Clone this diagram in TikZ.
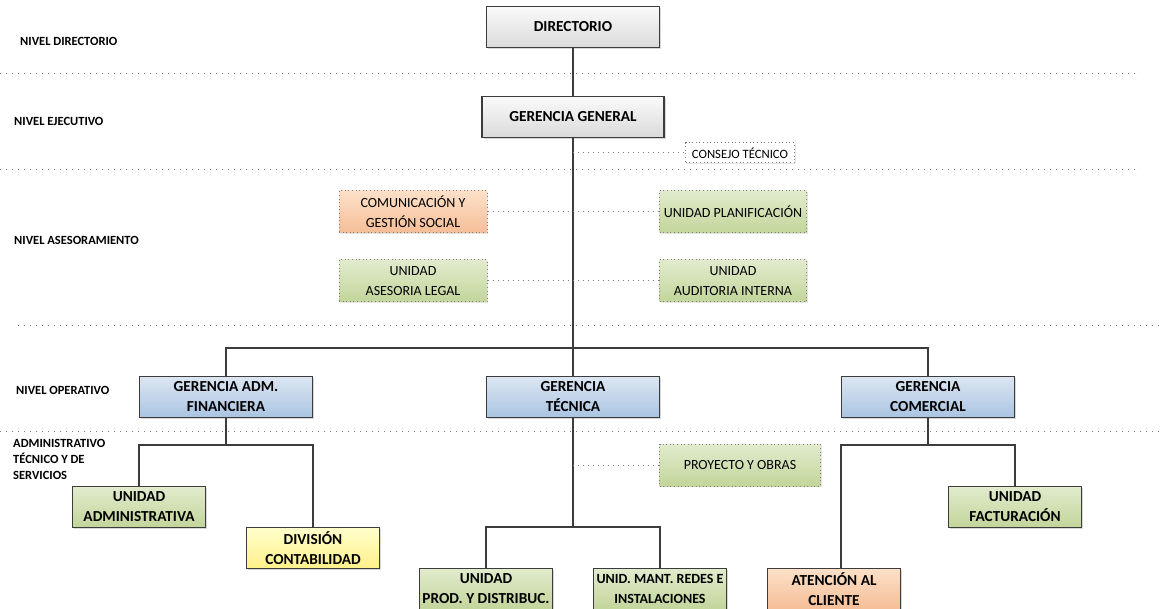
\documentclass[tikz,border=0pt]{standalone}
\usepackage{fontspec}
\setmainfont{Carlito}
\usetikzlibrary{shadows, positioning}
\definecolor{grisA}{HTML}{FAFAFA}
\definecolor{grisB}{HTML}{DADADA}
\definecolor{azulA}{HTML}{DCE6F2}
\definecolor{azulB}{HTML}{A9C4E2}
\definecolor{verdeA}{HTML}{E2EBCD}
\definecolor{verdeB}{HTML}{C2D59A}
\definecolor{naranjaA}{HTML}{FCE0C8}
\definecolor{naranjaB}{HTML}{F5BE97}
\definecolor{amarilloA}{HTML}{FFFFCC}
\definecolor{amarilloB}{HTML}{FFF08A}
\definecolor{borde}{HTML}{3C3C3C}
\tikzstyle{cargo} = [draw=borde, line width=1.1pt, rectangle, minimum width=173pt, minimum height=41pt, inner sep=1pt, align=center, font=\fontsize{15.3}{20}\selectfont\bfseries, drop shadow={shadow xshift=1.5pt, shadow yshift=-1.5pt, opacity=0.3}]
\tikzstyle{directivo} = [cargo, top color=grisA, bottom color=grisB]
\tikzstyle{gerencia} = [cargo, top color=azulA, bottom color=azulB]
\tikzstyle{unidad} = [cargo, minimum width=133pt, top color=verdeA, bottom color=verdeB]
\tikzstyle{staff} = [draw=gray, dash pattern=on 1pt off 2.6pt, line width=1pt, rectangle, minimum width=148pt, minimum height=42pt, inner sep=1pt, align=center, font=\fontsize{14}{20}\selectfont, top color=verdeA, bottom color=verdeB, drop shadow={shadow xshift=1pt, shadow yshift=-1pt, opacity=0.2}]
\tikzstyle{nivel} = [anchor=west, inner sep=0pt, align=left, font=\fontsize{12.5}{16}\selectfont\bfseries]
\tikzstyle{separador} = [draw=gray, line width=1pt, dash pattern=on 1pt off 5pt]
\tikzstyle{enlace} = [draw=borde, line width=1.1pt]
\tikzstyle{enlacepunt} = [draw=gray, line width=1pt, dash pattern=on 1pt off 4pt]

\begin{document}
\begin{tikzpicture}[x=1pt, y=-1pt]
	\useasboundingbox[fill=white] (0,0) rectangle (1161,609);
	% separadores de nivel
	\draw[separador] (0,74) -- (1140,74);
	\draw[separador] (0,170) -- (1140,170);
	\draw[separador] (18,326) -- (1161,326);
	\draw[separador] (0,431) -- (1161,431);
	% niveles
	\node[nivel] (ndir) at (20,41) {NIVEL DIRECTORIO};
	\node[nivel] (neje) at (14,121) {NIVEL EJECUTIVO};
	\node[nivel] (nase) at (14,240) {NIVEL ASESORAMIENTO};
	\node[nivel] (nope) at (16,390) {NIVEL OPERATIVO};
	\node[nivel] (nadm) at (13,459) {ADMINISTRATIVO\\TÉCNICO Y DE\\SERVICIOS};
	% puntos de quiebre
	\coordinate (barra) at (573,348);
	\coordinate (bfin) at (226,445);
	\coordinate (btec) at (573,527);
	\coordinate (bcom) at (928,445);
	% cajas
	\node[directivo] (directorio) at (573,27) {DIRECTORIO};
	\node[directivo, minimum width=182pt] (general) at (573,117) {GERENCIA GENERAL};
	\node[staff, top color=white, bottom color=white, minimum width=109pt, minimum height=20pt, font=\fontsize{12.7}{14}\selectfont] (consejo) at (740,153) {CONSEJO TÉCNICO};
	\node[staff, top color=naranjaA, bottom color=naranjaB] (comunicacion) at (413,212) {COMUNICACIÓN Y\\GESTIÓN SOCIAL};
	\node[staff, minimum width=147pt] (planificacion) at (733,212) {UNIDAD PLANIFICACIÓN};
	\node[staff] (legal) at (413,281) {UNIDAD\\ASESORIA LEGAL};
	\node[staff, minimum width=147pt] (auditoria) at (733,281) {UNIDAD\\AUDITORIA INTERNA};
	\node[gerencia] (gfinanciera) at (226,397) {GERENCIA ADM.\\FINANCIERA};
	\node[gerencia] (gtecnica) at (573,397) {GERENCIA\\TÉCNICA};
	\node[gerencia] (gcomercial) at (928,397) {GERENCIA\\COMERCIAL};
	\node[unidad] (administrativa) at (139,507) {UNIDAD\\ADMINISTRATIVA};
	\node[unidad, top color=amarilloA, bottom color=amarilloB] (contabilidad) at (313,548) {DIVISIÓN\\CONTABILIDAD};
	\node[staff, minimum width=161pt] (proyecto) at (740,465) {PROYECTO Y OBRAS};
	\node[unidad] (produccion) at (486,589) {UNIDAD\\PROD. Y DISTRIBUC.};
	\node[unidad, font=\fontsize{14}{20}\selectfont\bfseries] (redes) at (660,589) {UNID. MANT. REDES E\\INSTALACIONES};
	\node[unidad, top color=naranjaA, bottom color=naranjaB] (atencion) at (834,589) {ATENCIÓN AL\\CLIENTE};
	\node[unidad] (facturacion) at (1015,507) {UNIDAD\\FACTURACIÓN};
	% lineas de mando
	\draw[enlace] (directorio) -- (general);
	\draw[enlace] (general) -- (gtecnica);
	\draw[enlace] (gfinanciera.north) |- (barra) -| (gcomercial.north);
	\draw[enlace] (gfinanciera) -- (bfin);
	\draw[enlace] (administrativa.north) |- (bfin) -| (contabilidad.north);
	\draw[enlace] (gtecnica) -- (btec);
	\draw[enlace] (produccion.north) |- (btec) -| (redes.north);
	\draw[enlace] (gcomercial) -- (bcom);
	\draw[enlace] (bcom) -| (facturacion.north);
	\draw[enlace] (bcom) -| ([xshift=7pt]atencion.north);
	% lineas de asesoria
	\draw[enlacepunt] (general.south |- consejo.west) -- (consejo.west);
	\draw[enlacepunt] (comunicacion) -- (planificacion);
	\draw[enlacepunt] (legal) -- (auditoria);
	\draw[enlacepunt] (gtecnica.south |- proyecto.west) -- (proyecto.west);
\end{tikzpicture}
\end{document}
